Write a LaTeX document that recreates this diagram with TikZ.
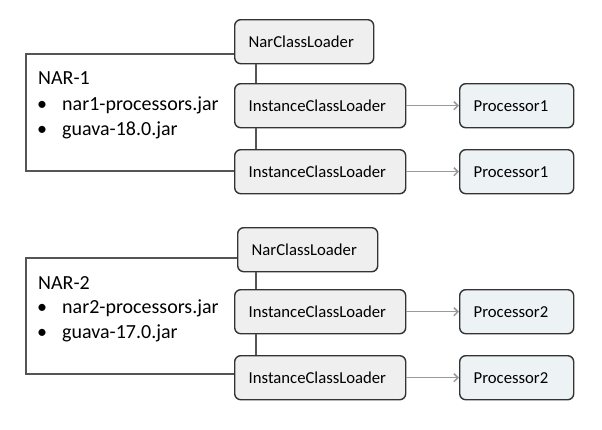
\documentclass[tikz,border=0pt]{standalone}
\usepackage{fontspec}
\setmainfont{Carlito}
\usetikzlibrary{arrows.meta}
\definecolor{boxfill}{HTML}{EFEFEF}
\definecolor{procfill}{HTML}{EDF2F5}
\definecolor{boxline}{HTML}{333333}
\definecolor{narline}{HTML}{555555}
\definecolor{arrowgray}{HTML}{9A9A9A}
\tikzset{
  x=1pt, y=-1pt,
  loader/.style={draw=boxline, line width=1.4pt, fill=boxfill, rounded corners=6pt,
    minimum height=44pt, inner xsep=14pt, align=left, anchor=north west,
    font=\fontsize{16.7}{18}\selectfont},
  proc/.style={loader, fill=procfill},
  narline/.style={draw=narline, line width=1.2pt},
  link/.style={draw=arrowgray, line width=1.5pt, -{Straight Barb[length=4pt,width=8pt]}},
  stem/.style={draw=narline, line width=1.2pt},
  nartext/.style={anchor=base west, inner sep=0pt, font=\fontsize{20}{22}\selectfont},
}
\begin{document}
\begin{tikzpicture}
\useasboundingbox (0,0) rectangle (602,429);
\fill[white] (0,0) rectangle (602,429);

% ---------- group 1 ----------
\coordinate (a1tl) at (26,54);
\coordinate (a1bl) at (26,171);
\coordinate (a1stem) at (256,0);
\node[nartext] (a1t) at (38,84) {NAR-1};
\node[nartext] (a1b1) at (37,110) {•};
\node[nartext] (a1j1) at (62,110) {nar1-processors.jar};
\node[nartext] (a1b2) at (37,135) {•};
\node[nartext] (a1j2) at (62,135) {guava-18.0.jar};

\path (234,19) node[loader, text width=111pt] (ncl1) {NarClassLoader};
\path (234,83) node[loader, text width=143pt] (icl11) {InstanceClassLoader};
\path (234,149) node[loader, text width=143pt] (icl12) {InstanceClassLoader};
\path (459,83) node[proc, text width=86pt] (p11) {Processor1};
\path (459,149) node[proc, text width=86pt] (p12) {Processor1};

\draw[narline] (ncl1.west |- a1tl) -- (a1tl) -- (a1bl) -- (icl12.west |- a1bl);
\draw[stem] (ncl1.south -| a1stem) -- (icl11.north -| a1stem);
\draw[stem] (icl11.south -| a1stem) -- (icl12.north -| a1stem);
\draw[link] (icl11.east) -- (p11.west);
\draw[link] (icl12.east) -- (p12.west);

% ---------- group 2 ----------
\coordinate (a2tl) at (26,258);
\coordinate (a2bl) at (26,374);
\coordinate (a2stem) at (256,0);
\node[nartext] (a2t) at (38,289) {NAR-2};
\node[nartext] (a2b1) at (37,313) {•};
\node[nartext] (a2j1) at (62,313) {nar2-processors.jar};
\node[nartext] (a2b2) at (37,338) {•};
\node[nartext] (a2j2) at (62,338) {guava-17.0.jar};

\path (237,227) node[loader, text width=112pt] (ncl2) {NarClassLoader};
\path (234,289) node[loader, text width=143pt] (icl21) {InstanceClassLoader};
\path (234,355) node[loader, text width=143pt] (icl22) {InstanceClassLoader};
\path (459,289) node[proc, text width=86pt] (p21) {Processor2};
\path (459,355) node[proc, text width=86pt] (p22) {Processor2};

\draw[narline] (ncl2.west |- a2tl) -- (a2tl) -- (a2bl) -- (icl22.west |- a2bl);
\draw[stem] (ncl2.south -| a2stem) -- (icl21.north -| a2stem);
\draw[stem] (icl21.south -| a2stem) -- (icl22.north -| a2stem);
\draw[link] (icl21.east) -- (p21.west);
\draw[link] (icl22.east) -- (p22.west);
\end{tikzpicture}
\end{document}
